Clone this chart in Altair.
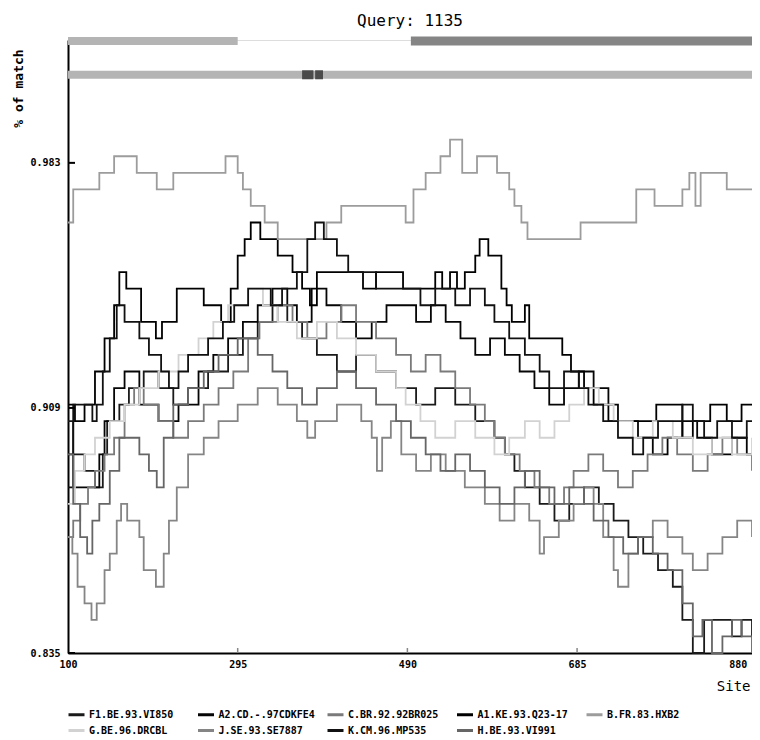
import altair as alt
import pandas as pd

# ---------------- data ----------------
series_names = ["F1.BE.93.VI850", "A2.CD.-.97CDKFE4", "C.BR.92.92BR025",
                "A1.KE.93.Q23-17", "B.FR.83.HXB2", "G.BE.96.DRCBL",
                "J.SE.93.SE7887", "K.CM.96.MP535", "H.BE.93.VI991"]
series_colors = ["#1a1a1a", "#050505", "#7a7a7a", "#000000", "#9c9c9c",
                 "#d2d2d2", "#858585", "#111111", "#666666"]

f1_sites = [100,106,119,131,140,145,159,170,187,204,221,238,261,284,301,318,335,352,369,386,
            409,431,454,477,500,522,545,568,590,602,613,625,642,659,676,693,710,727,744,761,
            778,795,806,818,831,863,874,886]
f1_vals = [0.905,0.895,0.890,0.885,0.895,0.905,0.910,0.915,0.920,0.915,0.910,0.915,0.920,0.925,0.930,0.935,0.940,0.935,0.930,0.925,
           0.920,0.925,0.920,0.915,0.910,0.915,0.910,0.905,0.900,0.895,0.890,0.885,0.880,0.875,0.880,0.885,0.880,0.875,0.870,0.865,
           0.860,0.855,0.845,0.835,0.845,0.840,0.845,0.840]

a2_sites = [100,106,136,142,153,165,182,204,227,250,267,284,301,318,335,352,363,380,397,414,
            431,449,466,500,517,534,551,568,585,602,619,636,653,670,687,704,721,732,755,772,
            789,806,823,840,863,880,886]
a2_vals = [0.895,0.885,0.895,0.905,0.915,0.920,0.910,0.905,0.910,0.920,0.925,0.930,0.935,0.940,0.945,0.940,0.935,0.945,0.940,0.935,
           0.930,0.935,0.940,0.935,0.940,0.935,0.930,0.925,0.930,0.925,0.920,0.915,0.910,0.915,0.920,0.915,0.910,0.905,0.900,0.895,
           0.900,0.905,0.900,0.895,0.900,0.895,0.895]

c_sites = [100,106,114,123,131,142,153,165,176,187,204,221,238,256,273,290,307,320,341,358,
           375,397,414,431,454,477,494,511,528,545,562,579,590,602,619,636,653,670,681,698,
           715,732,749,766,783,800,818,835,852,869,886]
c_vals = [0.870,0.875,0.880,0.885,0.890,0.895,0.900,0.910,0.915,0.910,0.905,0.900,0.905,0.910,0.915,0.920,0.930,0.935,0.940,0.935,
          0.930,0.935,0.940,0.935,0.930,0.925,0.920,0.925,0.920,0.915,0.910,0.905,0.900,0.895,0.890,0.885,0.880,0.885,0.890,0.895,
          0.890,0.885,0.890,0.895,0.900,0.895,0.890,0.895,0.900,0.895,0.890]

a1_sites = [100,108,119,131,142,153,159,167,184,201,208,225,256,276,287,295,303,310,321,341,
            358,369,378,386,439,454,485,522,530,539,547,556,568,573,583,598,604,610,625,630,
            668,678,693,704,721,776,806,818,838,857,874,886]
a1_vals = [0.910,0.905,0.910,0.920,0.930,0.940,0.950,0.945,0.935,0.930,0.935,0.945,0.940,0.935,0.945,0.955,0.960,0.965,0.960,0.955,
           0.950,0.945,0.940,0.950,0.945,0.950,0.945,0.950,0.945,0.950,0.945,0.950,0.955,0.960,0.955,0.945,0.940,0.935,0.940,0.930,
           0.925,0.920,0.915,0.910,0.905,0.910,0.900,0.905,0.910,0.905,0.910,0.910]

b_sites = [100,106,136,153,179,202,221,281,295,301,310,326,341,397,414,488,497,511,528,539,
           553,570,593,607,613,621,628,689,753,774,806,814,821,827,857,886]
b_vals = [0.965,0.975,0.980,0.985,0.980,0.975,0.980,0.985,0.980,0.975,0.970,0.965,0.960,0.965,0.970,0.965,0.975,0.980,0.985,0.990,
          0.980,0.985,0.980,0.975,0.970,0.965,0.960,0.965,0.975,0.970,0.975,0.980,0.970,0.980,0.975,0.975]

g_sites = [100,108,119,131,148,165,182,204,227,250,267,284,307,324,341,363,386,409,431,454,
           477,488,505,522,545,568,590,607,625,642,659,676,693,710,727,749,772,795,818,840,
           863,886]
g_vals = [0.880,0.890,0.895,0.900,0.905,0.910,0.915,0.920,0.925,0.930,0.935,0.940,0.945,0.940,0.935,0.930,0.935,0.930,0.925,0.920,
          0.915,0.910,0.905,0.900,0.905,0.900,0.895,0.900,0.905,0.900,0.905,0.910,0.915,0.910,0.905,0.900,0.905,0.900,0.895,0.900,
          0.895,0.900]

j_sites = [100,105,111,119,127,133,142,148,156,161,168,182,187,201,210,216,225,238,256,273,
           295,318,341,363,375,384,409,437,449,455,461,471,483,500,517,534,556,579,596,613,
           630,642,647,664,681,693,704,715,727,732,744,755,772,789,806,818,835,852,869,886]
j_vals = [0.870,0.865,0.855,0.850,0.845,0.850,0.860,0.865,0.875,0.880,0.875,0.870,0.860,0.855,0.865,0.875,0.885,0.895,0.900,0.905,
          0.910,0.915,0.910,0.905,0.900,0.905,0.910,0.905,0.900,0.890,0.900,0.905,0.895,0.890,0.895,0.890,0.885,0.880,0.875,0.880,
          0.875,0.865,0.870,0.875,0.880,0.885,0.880,0.870,0.860,0.855,0.865,0.870,0.875,0.870,0.865,0.860,0.865,0.870,0.875,0.870]

k_sites = [100,106,128,133,140,148,156,165,182,193,207,216,227,238,261,278,291,307,333,346,
           363,375,384,394,409,422,454,505,522,545,562,579,590,607,625,642,653,670,687,698,
           715,732,749,761,778,806,818,831,846,863,880,886]
k_vals = [0.885,0.910,0.905,0.910,0.920,0.930,0.940,0.935,0.930,0.925,0.920,0.915,0.920,0.925,0.930,0.935,0.940,0.945,0.940,0.945,
          0.950,0.960,0.965,0.960,0.955,0.950,0.945,0.940,0.945,0.940,0.945,0.940,0.935,0.930,0.925,0.920,0.915,0.920,0.915,0.910,
          0.905,0.900,0.895,0.900,0.905,0.910,0.905,0.900,0.905,0.900,0.905,0.905]

h_sites = [100,106,114,122,128,136,148,159,182,193,202,210,221,238,256,273,295,318,335,352,
           369,386,409,431,454,477,494,511,528,545,562,579,596,613,625,642,659,676,693,704,
           721,738,755,772,789,806,818,829,840,852,863,874,886]
h_vals = [0.895,0.880,0.870,0.865,0.875,0.880,0.890,0.900,0.895,0.890,0.885,0.900,0.910,0.915,0.920,0.925,0.930,0.925,0.920,0.915,
          0.910,0.915,0.920,0.915,0.910,0.905,0.900,0.895,0.890,0.895,0.890,0.885,0.880,0.885,0.890,0.885,0.880,0.885,0.880,0.875,
          0.870,0.865,0.870,0.865,0.860,0.850,0.840,0.845,0.835,0.840,0.845,0.840,0.835]

series_sites = [f1_sites, a2_sites, c_sites, a1_sites, b_sites, g_sites, j_sites, k_sites, h_sites]
series_vals = [f1_vals, a2_vals, c_vals, a1_vals, b_vals, g_vals, j_vals, k_vals, h_vals]

# query region bars above the plot (site ranges, row value)
bar_start = [100, 494, 100, 369, 384]
bar_end = [295, 886, 886, 382, 393]
bar_row = [1.0198, 1.0198, 1.0096, 1.0096, 1.0096]
bar_kind = ["light", "dark", "light", "mark", "mark"]

y_ticks = [0.835, 0.909, 0.983]
x_ticks = [100, 295, 490, 685, 880]
x_domain = [100, 886]
y_domain = [0.835, 1.0201]

# ---------------- build tables ----------------
rows = []
for name, ss, vv in zip(series_names, series_sites, series_vals):
    for s, v in zip(ss, vv):
        rows.append({"series": name, "site": s, "value": v})
df = pd.DataFrame(rows)
bars = pd.DataFrame({"start": bar_start, "end": bar_end, "row": bar_row, "kind": bar_kind})
yt = pd.DataFrame({"value": y_ticks})
xt = pd.DataFrame({"site": x_ticks[1:4]})

W, H = 684, 613
mono = "DejaVu Sans Mono"

xscale = alt.Scale(domain=x_domain, nice=False, zero=False)
yscale = alt.Scale(domain=y_domain, nice=False, zero=False)
xaxis = alt.Axis(values=x_ticks, ticks=False, grid=False, domainColor="black", domainWidth=2,
                 labelFont=mono, labelFontWeight="bold", labelFontSize=10, labelColor="black",
                 labelPadding=6, labelFlush=False, labelOverlap=False,
                 labelAlign={"condition": {"test": "datum.value >= 880", "value": "right"},
                             "value": "center"},
                 title="Site", titleFont=mono, titleFontWeight="normal", titleFontSize=14,
                 titleColor="black", titleX=W - 2, titleY=33, titleAlign="right",
                 titleBaseline="middle")
yaxis = alt.Axis(values=y_ticks, format=".3f", ticks=False, grid=False, domainColor="black", domainWidth=2,
                 labelFont=mono, labelFontWeight="bold", labelFontSize=10, labelColor="black",
                 labelPadding=8, labelOverlap=False,
                 title="% of match", titleFont=mono, titleFontWeight="bold", titleFontSize=13,
                 titleColor="black", titleAngle=270, titleX=-50, titleY=48,
                 titleAlign="center", titleBaseline="middle")

lines = alt.Chart(df).mark_line(interpolate="step-after", strokeWidth=1.8).encode(
    x=alt.X("site:Q", scale=xscale, axis=xaxis),
    y=alt.Y("value:Q", scale=yscale, axis=yaxis),
    color=alt.Color("series:N", sort=series_names,
                    scale=alt.Scale(domain=series_names, range=series_colors),
                    legend=alt.Legend(title=None, orient="none", legendX=-1, legendY=665,
                                      direction="horizontal", columns=5, gridAlign="all",
                                      symbolType="stroke", symbolSize=256, symbolStrokeWidth=3,
                                      labelFont=mono, labelFontWeight="bold", labelFontSize=10,
                                      labelColor="black", labelOffset=3, columnPadding=5.5,
                                      rowPadding=0, labelLimit=250)),
    detail="series:N",
)

def bar_layer(kind, color, width):
    return alt.Chart(bars).transform_filter(alt.datum.kind == kind).mark_rule(
        strokeWidth=width, color=color).encode(
        x=alt.X("start:Q", scale=xscale, axis=xaxis),
        x2="end:Q",
        y=alt.Y("row:Q", scale=yscale, axis=yaxis),
    )

ytick_layer = alt.Chart(yt).mark_rule(color="black", strokeWidth=2).encode(
    y=alt.Y("value:Q", scale=yscale, axis=yaxis),
    x=alt.value(0), x2=alt.value(7),
)
xtick_layer = alt.Chart(xt).mark_rule(color="#888888", strokeWidth=1.5).encode(
    x=alt.X("site:Q", scale=xscale, axis=xaxis),
    y=alt.value(H - 5), y2=alt.value(H),
)

chart = alt.layer(
    bar_layer("light", "#b4b4b4", 8),
    bar_layer("dark", "#858585", 9),
    bar_layer("mark", "#4a4a4a", 9),
    lines,
    ytick_layer,
    xtick_layer,
).properties(
    width=W, height=H,
    title=alt.TitleParams("Query: 1135", font=mono, fontSize=16, fontWeight="normal",
                          color="black", anchor="middle", offset=7),
    autosize=alt.AutoSizeParams(type="none"),
    padding={"left": 60, "top": 32, "right": 0, "bottom": 87},
).configure_view(strokeWidth=0).configure(background="white")

chart.save("out.html", embed_options={"renderer": "svg", "actions": False})
